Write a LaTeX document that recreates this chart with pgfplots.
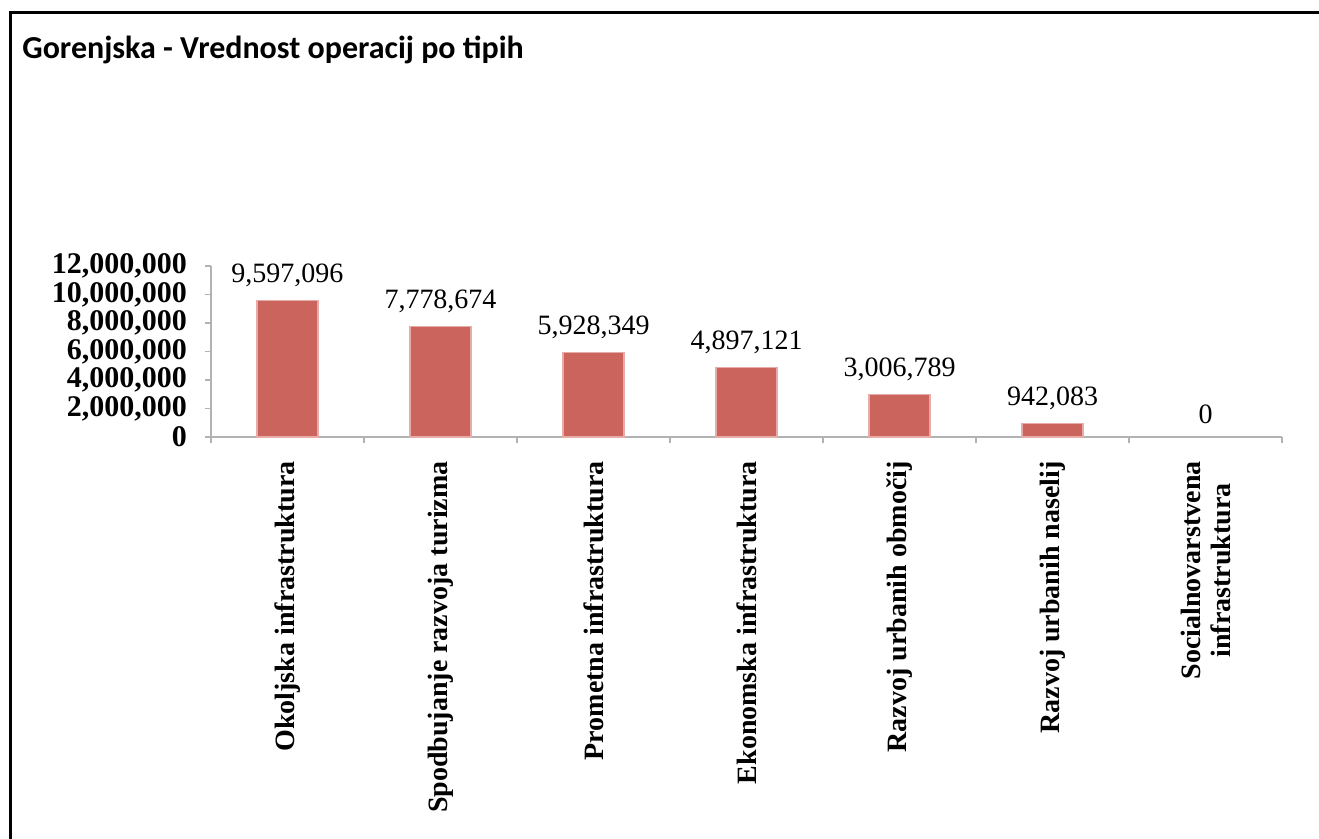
\documentclass[border=0pt]{standalone}
\usepackage{pgfplots}
\pgfplotsset{compat=1.18}
\usepackage{fontspec}
\setmainfont{Liberation Serif}
\newfontfamily\titlefont{Carlito}
\definecolor{barred}{RGB}{204,100,94}
\definecolor{baredge}{RGB}{232,172,168}
\definecolor{axgray}{RGB}{178,178,178}
\begin{document}
\begin{tikzpicture}
\useasboundingbox (0,0) rectangle (659.5pt,419.5pt);
\draw[line width=1.5pt, black] (5pt,0) -- (5pt,413pt) -- (659.5pt,413pt);
\node[anchor=base west, inner sep=0pt, font=\titlefont\bfseries\fontsize{16pt}{18pt}\selectfont] at (11pt,390pt) {Gorenjska - Vrednost operacij po tipih};
\begin{axis}[
  at={(105.5pt,201pt)}, anchor=south west,
  scale only axis, width=535.5pt, height=85.5pt,
  xmin=-0.5, xmax=6.5, ymin=0, ymax=12000000,
  axis x line*=bottom, axis y line*=left,
  axis line style={axgray, line width=0.8pt},
  every tick/.style={axgray, line width=0.8pt},
  tick align=outside,
  major tick length=3pt, minor tick length=3pt,
  xtick={0,1,2,3,4,5,6},
  major x tick style={draw=none},
  minor xtick={-0.5,0.5,1.5,2.5,3.5,4.5,5.5,6.5},
  xticklabels={Okoljska infrastruktura, Spodbujanje razvoja turizma, Prometna infrastruktura, Ekonomska infrastruktura, Razvoj urbanih območij, Razvoj urbanih naselij, {Socialnovarstvena\\infrastruktura}},
  xticklabel style={rotate=90, anchor=east, align=center, font=\bfseries\fontsize{14pt}{15pt}\selectfont, inner sep=0pt, xshift=-9pt},
  ytick={0,2000000,4000000,6000000,8000000,10000000,12000000},
  scaled y ticks=false,
  /pgf/number format/assume math mode=true,
  yticklabel style={font=\bfseries\fontsize{15pt}{15pt}\selectfont, /pgf/number format/fixed, /pgf/number format/1000 sep={,}, xshift=-5.5pt},
  ybar, bar width=30.5pt, bar shift=0pt,
  nodes near coords,
  every node near coord/.append style={font=\fontsize{14pt}{15pt}\selectfont, /pgf/number format/fixed, /pgf/number format/1000 sep={,}, yshift=3pt},
  clip=false,
]
\addplot[fill=barred, draw=baredge, line width=0.6pt] coordinates {
(0,9597096) (1,7778674) (2,5928349) (3,4897121) (4,3006789) (5,942083)
};
\addplot[fill=none, draw=none] coordinates {(6,0)};
\end{axis}
\end{tikzpicture}
\end{document}
